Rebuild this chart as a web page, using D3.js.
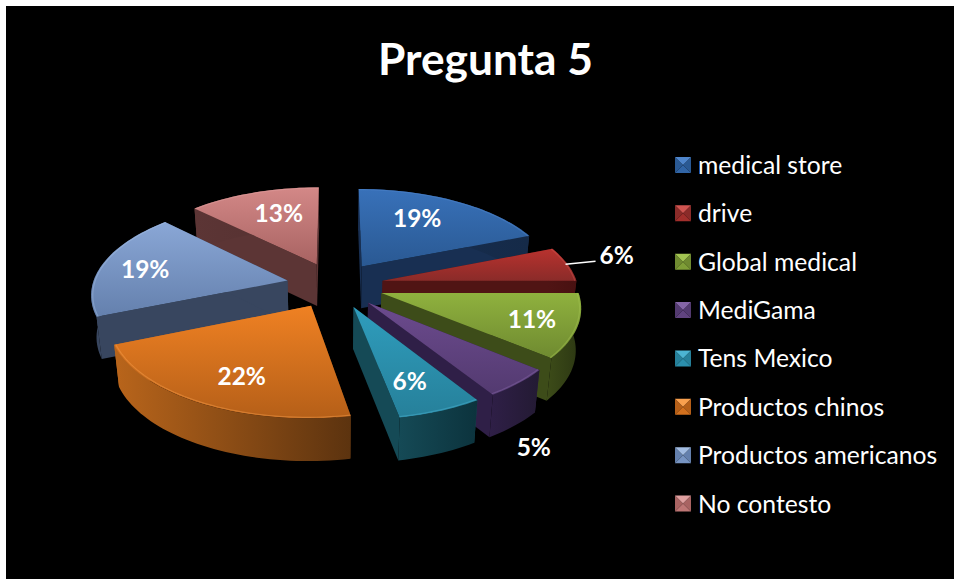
<!DOCTYPE html>
<html><head><meta charset="utf-8">
<script src="https://cdn.jsdelivr.net/npm/d3@7"></script>
<style>html,body{margin:0;padding:0;background:#fff}svg{display:block}text{font-family:Lato,"Open Sans",sans-serif}</style>
</head><body><svg id="c" width="954" height="579"></svg>
<script>
const title = "Pregunta 5";
const categories = ["medical store","drive","Global medical","MediGama","Tens Mexico","Productos chinos","Productos americanos","No contesto"];
const percentages = [19,6,11,5,6,21.8,18.6,12.6];
const topLight  = ["#3871b9","#b9322e","#8fb13e","#6c4b8e","#2f9dbd","#ef8123","#8aa7d6","#d38887"];
const topDark   = ["#2a5993","#8a2b29","#6f8a30","#533a70","#26809a","#b55f18","#6480ad","#a86362"];
const wallLight = ["#182f52","#501414","#3d4c19","#2f1f47","#154a56","#b9651b","#38465f","#5c3535"];
const wallDark  = ["#152a48","#481111","#2b3612","#231a33","#0c333d","#5c330f","#333f57","#533030"];
const rim       = ["#4f86cc","#cf5450","#a3c452","#8465a6","#4cb4d2","#f9a04e","#a2bce2","#e0a0a0"];

// layout (not data)
const geom = {cx:335, cy:285, rx:195, ry:92, p:0.13, explode:0.25, depth:41, shrink:0.978};
const labelAt = [[0.62,-5,-7],[1.32,-8,-4],[0.78,-1,0],[1.45,-64,21],[0.76,-8,-3],[0.72,8,2],[0.74,-5,1],[0.62,3,-6]];

const svg = d3.select("#c");
svg.append("rect").attr("x",6).attr("y",6).attr("width",948).attr("height",573).attr("fill","#000");
const defs = svg.append("defs");

const slices = d3.pie().sort(null).value(d=>d)(percentages).map((s,i)=>{
  const mid=(s.startAngle+s.endAngle)/2;
  return {...s,i,mid,ox:Math.sin(mid)*geom.explode,oy:-Math.cos(mid)*geom.explode};
});
function project(X,Y,low){
  const s=1/(1-geom.p*Y);
  const f=low?geom.shrink:1;
  return [geom.cx+geom.rx*X*s*f, geom.cy+geom.ry*Y*s+(low?geom.depth*(0.9+0.12*s):0)];
}
const pt=(d,a,r,low)=>project(d.ox+Math.sin(a)*r,d.oy-Math.cos(a)*r,low);
const arcAngles=d=>{const n=Math.max(4,Math.ceil((d.endAngle-d.startAngle)/0.03));
  return d3.range(n+1).map(k=>d.startAngle+(d.endAngle-d.startAngle)*k/n);};
const path=d3.line().curve(d3.curveLinear);

slices.forEach(d=>{
  const g=defs.append("linearGradient").attr("id","top"+d.i).attr("x1",0).attr("y1",0).attr("x2",0).attr("y2",1);
  g.append("stop").attr("offset",0).attr("stop-color",topLight[d.i]);
  g.append("stop").attr("offset",1).attr("stop-color",topDark[d.i]);
  const w=defs.append("linearGradient").attr("id","wall"+d.i).attr("x1",0).attr("y1",0).attr("x2",1).attr("y2",0);
  w.append("stop").attr("offset",0).attr("stop-color",wallLight[d.i]);
  w.append("stop").attr("offset",1).attr("stop-color",wallDark[d.i]);
});

const order=slices.slice().sort((a,b)=>a.oy-b.oy);
const pie=svg.append("g");
order.forEach(d=>{
  const g=pie.append("g");
  const ang=arcAngles(d);
  [d.startAngle,d.endAngle].forEach(a=>{
    const poly=[pt(d,a,0),pt(d,a,1),pt(d,a,1,true),pt(d,a,0,true)];
    g.append("path").attr("d",path(poly)+"Z").attr("fill",a===d.startAngle&&d.i===5?wallDark[5]:wallLight[d.i]);
  });
  const outer=ang.map(a=>pt(d,a,1)).concat(ang.slice().reverse().map(a=>pt(d,a,1,true)));
  g.append("path").attr("d",path(outer)+"Z").attr("fill",`url(#wall${d.i})`);
  const top=[pt(d,0,0)].concat(ang.map(a=>pt(d,a,1)));
  g.append("path").attr("d",path(top)+"Z").attr("fill",`url(#top${d.i})`);
  g.append("path").attr("d",path(ang.map(a=>pt(d,a,0.992)))).attr("fill","none").attr("stroke",rim[d.i]).attr("stroke-width",1.2).attr("opacity",0.45);
});

// data labels
const fmt=v=>Math.round(v)+"%";
slices.forEach(d=>{
  const [r,dx,dy]=labelAt[d.i];
  const [x,y]=pt(d,d.mid,r);
  svg.append("text").attr("x",x+dx).attr("y",y+dy).attr("text-anchor","middle").attr("dominant-baseline","central")
    .attr("fill","#fff").attr("font-weight",700).attr("font-size",24.5).text(fmt(percentages[d.i]));
});
// leader line of the drive slice
{
  const d=slices[1];
  const a=pt(d,d.mid,0.99);
  svg.append("path").attr("d",path([a,[a[0]+30,a[1]-3]])).attr("stroke","#fff").attr("stroke-width",1.6).attr("fill","none");
}

svg.append("text").attr("x",485.5).attr("y",57).attr("text-anchor","middle").attr("dominant-baseline","central")
  .attr("fill","#fff").attr("font-weight",700).attr("font-size",44.3).text(title);

// legend
const rowY=d3.scalePoint().domain(categories).range([165,503.5]);
const sw=16;
const leg=svg.append("g").selectAll("g").data(categories).join("g").attr("transform",c=>`translate(675,${rowY(c)-sw/2})`);
leg.each(function(c,i){
  const g=d3.select(this), m=sw/2;
  const tri=(p,col)=>g.append("path").attr("d",path(p)+"Z").attr("fill",col);
  tri([[0,0],[0,sw],[m,m]],topDark[i]);
  tri([[sw,0],[sw,sw],[m,m]],topDark[i]);
  tri([[0,sw],[sw,sw],[m,m]],d3.interpolateRgb(topLight[i],topDark[i])(0.5));
  tri([[0,0],[sw,0],[m,m]],rim[i]);
});
leg.append("text").attr("x",23).attr("y",sw/2-0.5).attr("dominant-baseline","central").attr("fill","#fff").attr("font-size",24.7).text(c=>c);
</script></body></html>
